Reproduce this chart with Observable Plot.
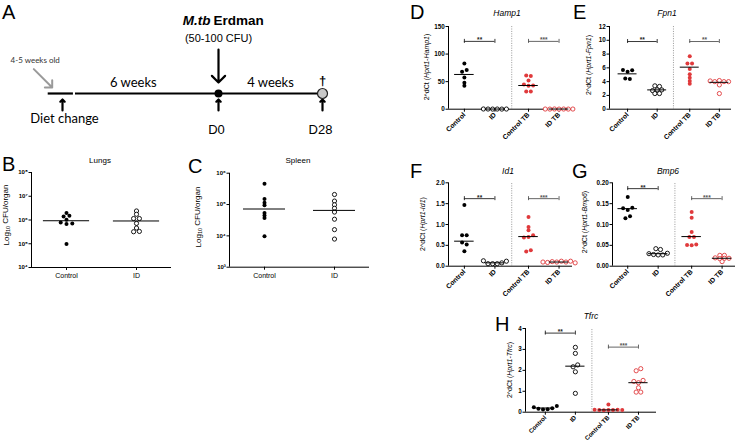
<!DOCTYPE html>
<html><head><meta charset="utf-8">
<script src="https://cdn.jsdelivr.net/npm/d3@7"></script>
<script src="https://cdn.jsdelivr.net/npm/@observablehq/plot@0.6"></script>
<style>
html,body{margin:0;padding:0;background:#fff;}
#fig{position:relative;width:736px;height:442px;overflow:hidden;background:#fff;}
#fig svg{position:absolute;}
</style></head><body><div id="fig"></div>
<script>
// ---------------- DATA ----------------
// Panel A: timeline (weeks relative to diet change)
const timelineEvents = [{label:"Diet change", week:0}, {label:"D0", week:6}, {label:"D28", week:10}];
const timelineSegments = [{from:-0.55, to:0.42}, {from:0.5, to:10}];
const timelinePeriods = [{label:"6 weeks", from:-0.55, to:6}, {label:"4 weeks", from:6, to:10}];

// Panels B, C: CFU per organ
const cfuGroups = ["Control", "ID"];
const lungsControl = [1.95e6, 1.41e6, 1.51e6, 1.02e6, 7.9e5, 6.8e5, 7.1e5, 9.8e4];
const lungsID = [2.4e6, 1.74e6, 1.15e6, 1.15e6, 7.2e5, 4.6e5, 3.2e5, 3.3e5];
const lungsMedian = [9.3e5, 9.1e5];
const spleenControl = [4.57e5, 1.51e5, 1.15e5, 9.5e4, 5.4e4, 4.5e4, 3.7e4, 9.8e3];
const spleenID = [2.09e5, 1.29e5, 9.8e4, 7.6e4, 5.75e4, 3.4e4, 1.58e4, 7.9e3];
const spleenMedian = [7.2e4, 6.5e4];
const lungsTicks = [1e4, 1e5, 1e6, 1e7, 1e8];
const spleenTicks = [1e3, 1e4, 1e5, 1e6];

// Panels D-H: 2^dCt
const geneGroups = ["Control", "ID", "Control TB", "ID TB"];
const hamp1Control = [83, 68, 71, 57.6, 42.4, 48];
const hamp1ID = [0.4, 0.3, 0.2, 0.3, 0.2, 0.3];
const hamp1ControlTB = [61, 60, 52, 44.8, 42.4, 43, 32, 32];
const hamp1IDTB = [0.3, 0.2, 0.4, 0.2, 0.3, 0.2, 0.3];
const hamp1Median = [63, 0.3, 43, 0.3];
const hamp1Brackets = [123, 123];
const hamp1Ticks = [0, 50, 100, 150];

const fpn1Control = [5.7, 5.42, 5.66, 4.45, 4.4];
const fpn1ID = [3.39, 3.3, 2.7, 2.8, 2.8, 2.27, 2.27];
const fpn1ControlTB = [7.7, 6.63, 6.63, 5.85, 5.08, 4.55, 4.11, 3.68];
const fpn1IDTB = [4.1, 4.0, 4.16, 4.0, 4.0, 3.53, 2.27];
const fpn1Median = [5.13, 2.8, 6.1, 3.9];
const fpn1Brackets = [9.82, 9.82];
const fpn1Ticks = [0, 2, 4, 6, 8, 10, 12];

const id1Control = [1.47, 0.74, 0.74, 0.57, 0.52, 0.36];
const id1ID = [0.13, 0.06, 0.06, 0.06, 0.08, 0.12];
const id1ControlTB = [1.18, 0.86, 0.94, 0.69, 0.70, 0.74, 0.35, 0.38];
const id1IDTB = [0.1, 0.09, 0.11, 0.1, 0.12, 0.1, 0.12, 0.08];
const id1Median = [0.6, 0.08, 0.71, 0.1];
const id1Brackets = [1.62, 1.62];
const id1Ticks = [0, 0.5, 1.0, 1.5, 2.0];

const bmp6Control = [0.166, 0.139, 0.135, 0.14, 0.115, 0.12];
const bmp6ID = [0.042, 0.04, 0.03, 0.028, 0.027, 0.027, 0.031];
const bmp6ControlTB = [0.13, 0.116, 0.082, 0.07, 0.07, 0.051, 0.05, 0.052];
const bmp6IDTB = [0.026, 0.026, 0.02, 0.018, 0.019, 0.019, 0.011];
const bmp6Median = [0.138, 0.03, 0.071, 0.019];
const bmp6Brackets = [0.186, 0.162];
const bmp6Ticks = [0, 0.05, 0.10, 0.15, 0.20];

const tfrcControl = [0.24, 0.16, 0.13, 0.14, 0.19, 0.3];
const tfrcID = [3.1, 2.81, 2.17, 2.26, 1.93, 0.9];
const tfrcControlTB = [0.37, 0.12, 0.1, 0.09, 0.11, 0.1, 0.12, 0.1];
const tfrcIDTB = [1.98, 2.08, 1.47, 1.41, 1.52, 1.17, 0.96, 0.96];
const tfrcMedian = [0.2, 2.2, 0.11, 1.41];
const tfrcBrackets = [3.78, 3.11];
const tfrcTicks = [0, 1, 2, 3, 4];

const stars = ["**", "***"];
const fpn1Stars = ["**", "**"];

// ---------------- RENDER ----------------
const FONT = '"Liberation Sans", Arial, Helvetica, sans-serif';
const RED = "#e03a3c";
const fig = document.getElementById("fig");
const sup = {"3":"\u00B3","4":"\u2074","5":"\u2075","6":"\u2076","7":"\u2077","8":"\u2078"};

function place(svg, left, top) {
  svg.style.left = left + "px";
  svg.style.top = top + "px";
  fig.appendChild(svg);
}

// Panel A
{
  const ev = timelineEvents;
  const A = Plot.plot({
    width: 345, height: 140,
    marginLeft: 0, marginRight: 0, marginTop: 0, marginBottom: 0,
    x: {domain: [0, 10], range: [62, 322], axis: null},
    y: {domain: [-1, 1], range: [186, 0], axis: null},
    style: {background: "transparent", overflow: "visible", fontFamily: FONT, color: "#000"},
    marks: [
      Plot.ruleY(timelineSegments, {x1: "from", x2: "to", y: 0, stroke: "#000", strokeWidth: 2.2}),
      Plot.vector(ev, {x: "week", y: 0, length: 11, rotate: 0, anchor: "end", dy: 6, stroke: "#000", strokeWidth: 2.2}),
      Plot.vector(ev.filter(d => d.label === "D0"), {x: "week", y: 0, length: 33, rotate: 180, anchor: "end", dy: -11, stroke: "#000", strokeWidth: 2.2}),
      Plot.vector([timelineSegments[0]], {x: "from", y: 0, length: 26, rotate: 135, anchor: "end", dx: 4, dy: -6, stroke: "#9a9a9a", strokeWidth: 2}),
      Plot.dot(ev.filter(d => d.label === "D0"), {x: "week", y: 0, r: 4, fill: "#000"}),
      Plot.dot(ev.filter(d => d.label === "D28"), {x: "week", y: 0, r: 5, fill: "#c8c8c8", stroke: "#222", strokeWidth: 1.2}),
      Plot.text(ev.filter(d => d.label === "D28"), {x: "week", y: 0, text: () => "\u2020", dy: -13, fontSize: 13, fontWeight: "bold", fill: "#000"}),
      Plot.text(ev.filter(d => d.label === "Diet change"), {x: "week", y: 0, text: "label", dx: 2, dy: 25, fontSize: 13, fontFamily: "Lato", fill: "#000"}),
      Plot.text(ev.filter(d => d.label !== "Diet change"), {x: "week", y: 0, text: "label", dx: -2, dy: 36, fontSize: 13, fill: "#000"}),
      Plot.text(timelinePeriods, {x: d => (d.from + d.to) / 2, y: 0, text: "label", dy: -11, fontSize: 13, fontFamily: "Lato", fill: "#000"}),
      Plot.text(ev.filter(d => d.label === "D0"), {x: "week", y: 0, text: () => "M.tb", textAnchor: "end", dx: -8, dy: -73, fontSize: 13.5, fontWeight: "bold", fontStyle: "italic", fill: "#000"}),
      Plot.text(ev.filter(d => d.label === "D0"), {x: "week", y: 0, text: () => "Erdman", textAnchor: "start", dx: -5, dy: -73, fontSize: 13.5, fontWeight: "bold", fill: "#000"}),
      Plot.text(ev.filter(d => d.label === "D0"), {x: "week", y: 0, text: () => "(50-100 CFU)", dy: -55, fontSize: 11, fill: "#000"}),
      Plot.text([timelineSegments[0]], {x: "from", y: 0, text: () => "4-5 weeks old", dx: -13, dy: -33, fontSize: 8, fontFamily: "Lato", fill: "#333"})
    ]
  });
  place(A, 0, 0);
}

function scatterPanel(cfg) {
  const [ml, mr, mt, mb] = cfg.margins;
  const W = cfg.width, H = cfg.height;
  const [x0, x1] = cfg.xDomain;
  const ppu = (W - ml - mr) / (x1 - x0);
  const ys = (cfg.yType === "log" ? d3.scaleLog() : d3.scaleLinear()).domain(cfg.yDomain).range([H - mb, mt]);
  const labelOf = new Map(cfg.pos.map((p, i) => [p, cfg.groups[i]]));
  const marks = [];
  marks.push(Plot.ruleX([x0], {y1: cfg.yDomain[0], y2: cfg.yDomain[1], stroke: "#000", strokeWidth: 1}));
  marks.push(Plot.ruleY([cfg.yDomain[0]], {x1: x0, x2: x1, stroke: "#000", strokeWidth: 1}));
  marks.push(Plot.axisY({ticks: cfg.yTicks, tickFormat: cfg.yFormat, tickSize: 2.5, tickPadding: 1.2,
    fontSize: cfg.yFont, fontWeight: "bold", label: null}));
  marks.push(Plot.axisX({ticks: cfg.pos, tickFormat: d => labelOf.get(d), tickSize: 3, tickPadding: cfg.rotate ? 1.5 : 2.5,
    tickRotate: cfg.rotate || 0, fontSize: cfg.xFont, fontWeight: cfg.rotate ? "bold" : "normal", label: null}));
  if (cfg.sep != null) {
    marks.push(Plot.ruleX([cfg.sep], {y1: cfg.yDomain[0], y2: cfg.yDomain[1], stroke: "#8c8c8c", strokeWidth: 0.9, strokeDasharray: "1,1.4"}));
  }
  (cfg.brackets || []).forEach((lvl, k) => {
    const a = cfg.pos[2 * k], b = cfg.pos[2 * k + 1];
    const col = k === 0 ? "#222" : "#555";
    const row = [{x1: a, x2: b, level: lvl, stars: cfg.stars[k]}];
    marks.push(Plot.ruleY(row, {x1: "x1", x2: "x2", y: "level", stroke: col, strokeWidth: 0.9}));
    marks.push(Plot.ruleX([{x: a, level: lvl}, {x: b, level: lvl}], {x: "x", y1: "level", y2: "level", insetTop: -2, insetBottom: -2, stroke: col, strokeWidth: 0.9}));
    marks.push(Plot.text(row, {x: d => (d.x1 + d.x2) / 2, y: "level", text: "stars", dy: -1.2, fontSize: 6.5, fontWeight: "bold", fill: col}));
  });
  cfg.series.forEach((vals, gi) => {
    const py = vals.map(v => ys(v));
    const order = d3.range(vals.length).sort((a, b) => py[a] - py[b]);
    const rows = [];
    let cur = null, prev = null;
    for (const i of order) {
      if (!cur || py[i] - prev > cfg.rowGap) { cur = []; rows.push(cur); }
      cur.push(i); prev = py[i];
    }
    const pts = [];
    for (const row of rows) {
      row.sort((a, b) => a - b);
      row.forEach((i, k) => {
        const off = (k - (row.length - 1) / 2) * cfg.step;
        pts.push({value: vals[i], x: cfg.pos[gi] + off / ppu});
      });
    }
    const filled = cfg.filled[gi];
    const col = cfg.colors[gi];
    marks.push(Plot.dot(pts, {x: "x", y: "value", r: filled ? 2 : 2.1,
      fill: filled ? col : "white", stroke: filled ? "none" : col, strokeWidth: 0.9}));
  });
  const med = cfg.medians.map((m, gi) => ({x1: cfg.pos[gi] - cfg.half, x2: cfg.pos[gi] + cfg.half, value: m}));
  marks.push(Plot.ruleY(med, {x1: "x1", x2: "x2", y: "value", stroke: "#000", strokeWidth: 1}));

  const svg = Plot.plot({
    width: W, height: H, marginLeft: ml, marginRight: mr, marginTop: mt, marginBottom: mb,
    x: {domain: cfg.xDomain},
    y: {type: cfg.yType || "linear", domain: cfg.yDomain},
    style: {background: "transparent", overflow: "visible", fontFamily: FONT, color: "#000"},
    marks
  });
  place(svg, cfg.left, cfg.top);
}

const logFmt = d => "10" + sup[String(Math.round(Math.log10(d)))];
const pos2 = [0, 1];
const pos4 = [0, 1, 2.1, 3.1];
const col4 = ["#000", "#000", RED, RED];
const fill4 = [true, false, true, false];

scatterPanel({left: 0, top: 150, width: 180, height: 140, margins: [31, 9, 22, 23],
  xDomain: [-0.5, 1.5], pos: pos2, groups: cfuGroups, yType: "log", yDomain: [1e4, 1e8],
  yTicks: lungsTicks, yFormat: logFmt, yFont: 6, xFont: 7,
  series: [lungsControl, lungsID], medians: lungsMedian, colors: ["#000", "#000"], filled: [true, false],
  rowGap: 2.3, step: 5.8, half: 0.33});

scatterPanel({left: 175, top: 150, width: 200, height: 140, margins: [54, 6, 22.7, 23.3],
  xDomain: [-0.5, 1.5], pos: pos2, groups: cfuGroups, yType: "log", yDomain: [1e3, 1e6],
  yTicks: spleenTicks, yFormat: logFmt, yFont: 6, xFont: 7,
  series: [spleenControl, spleenID], medians: spleenMedian, colors: ["#000", "#000"], filled: [true, false],
  rowGap: 2.3, step: 5.8, half: 0.3});

const geneCommon = {pos: pos4, groups: geneGroups, colors: col4, filled: fill4, rotate: -45, xFont: 6.8, yFont: 6.3,
  rowGap: 2.3, step: 4.6, half: 0.32, sep: 1.55};

scatterPanel({...geneCommon, left: 380, top: 0, width: 195, height: 160, margins: [68, 3, 26, 51.3],
  xDomain: [-0.52, 3.54], yDomain: [0, 150], yTicks: hamp1Ticks, yFormat: d3.format("d"),
  series: [hamp1Control, hamp1ID, hamp1ControlTB, hamp1IDTB], medians: hamp1Median,
  brackets: hamp1Brackets, stars: stars});

scatterPanel({...geneCommon, left: 560, top: 0, width: 176, height: 160, margins: [49, 5, 26, 51.3],
  xDomain: [-0.61, 3.51], yDomain: [0, 12], yTicks: fpn1Ticks, yFormat: d3.format("d"),
  series: [fpn1Control, fpn1ID, fpn1ControlTB, fpn1IDTB], medians: fpn1Median,
  brackets: fpn1Brackets, stars: fpn1Stars});

scatterPanel({...geneCommon, left: 380, top: 160, width: 195, height: 160, margins: [68, 3, 22.3, 54.3],
  xDomain: [-0.52, 3.54], yDomain: [0, 2], yTicks: id1Ticks, yFormat: d3.format(".1f"),
  series: [id1Control, id1ID, id1ControlTB, id1IDTB], medians: id1Median,
  brackets: id1Brackets, stars: stars});

scatterPanel({...geneCommon, left: 560, top: 160, width: 176, height: 160, margins: [52, 1, 22.3, 54.3],
  xDomain: [-0.5, 3.54], yDomain: [0, 0.2], yTicks: bmp6Ticks, yFormat: d3.format(".2f"),
  series: [bmp6Control, bmp6ID, bmp6ControlTB, bmp6IDTB], medians: bmp6Median,
  brackets: bmp6Brackets, stars: stars});

scatterPanel({...geneCommon, xFont: 6.2, left: 460, top: 310, width: 220, height: 132, margins: [65, 24, 18, 30.3],
  xDomain: [-0.66, 3.7], yDomain: [0, 4], yTicks: tfrcTicks, yFormat: d3.format("d"),
  series: [tfrcControl, tfrcID, tfrcControlTB, tfrcIDTB], medians: tfrcMedian,
  brackets: tfrcBrackets, stars: stars});

// ---------------- overlay text (panel letters, titles, axis labels) ----------------
const ov = d3.select(fig).append("svg").attr("width", 736).attr("height", 442)
  .style("left", "0px").style("top", "0px").style("pointer-events", "none")
  .style("font-family", FONT);

[["A", 2, 18.5], ["B", 2, 171], ["C", 188, 173], ["D", 410, 18.5], ["E", 573, 18.5],
 ["F", 410, 178], ["G", 572, 178], ["H", 495, 331]].forEach(([t, x, y]) => {
  ov.append("text").attr("x", x).attr("y", y).attr("font-size", 20).attr("fill", "#000").text(t);
});

[["Lungs", 100, 163, false], ["Spleen", 298, 163, false], ["Hamp1", 507, 16, true], ["Fpn1", 667, 16, true],
 ["Id1", 508, 174, true], ["Bmp6", 668, 174, true], ["Tfrc", 591, 319, true]].forEach(([t, x, y, it]) => {
  ov.append("text").attr("x", x).attr("y", y).attr("text-anchor", "middle").attr("fill", "#000")
    .attr("font-size", it ? 8.5 : 8).attr("font-style", it ? "italic" : "normal").text(t);
});

function yLabel(cx, cy, parts, size) {
  const t = ov.append("text").attr("transform", `translate(${cx},${cy}) rotate(-90)`)
    .attr("text-anchor", "middle").attr("dy", "0.35em").attr("font-size", size).attr("fill", "#000");
  parts.forEach(([s, style]) => {
    const sp = t.append("tspan").text(s);
    if (style === "i") sp.attr("font-style", "italic");
    if (style === "sub") sp.attr("font-size", size * 0.7).attr("dy", "0.25em");
    if (style === "after") sp.attr("dy", "-0.25em");
  });
}
yLabel(6, 215, [["Log", ""], ["10", "sub"], [" CFU/organ", "after"]], 8);
yLabel(198, 217, [["Log", ""], ["10", "sub"], [" CFU/organ", "after"]], 8);
yLabel(427, 67, [["2^dCt (", ""], ["Hprt1-Hamp1", "i"], [")", ""]], 7);
yLabel(589, 65, [["2^dCt (", ""], ["Hprt1-Fpn1", "i"], [")", ""]], 7);
yLabel(423, 224, [["2^dCt (", ""], ["Hprt1-Id1", "i"], [")", ""]], 7);
yLabel(585, 222, [["2^dCt (", ""], ["Hprt1-Bmp6", "i"], [")", ""]], 7);
yLabel(510, 370, [["2^dCt (", ""], ["Hprt1-Tfrc", "i"], [")", ""]], 7);
</script></body></html>
